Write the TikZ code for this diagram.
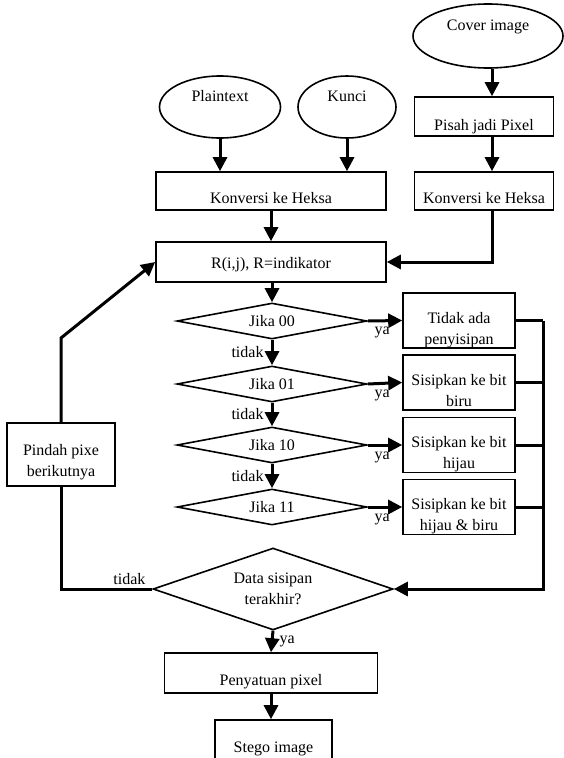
\documentclass[tikz,border=0pt]{standalone}
\usepackage{fontspec}
\setmainfont{Liberation Serif}
\usetikzlibrary{shapes.geometric,arrows.meta}
\begin{document}
\begin{tikzpicture}[x=1pt,y=-1pt,font=\fontsize{16}{21}\selectfont,
  box/.style={draw,line width=1.6pt,rectangle,inner sep=0pt,align=center},
  ell/.style={draw,line width=1.6pt,ellipse,inner sep=0pt,text height=12pt,text depth=23pt},
  dia/.style={draw,line width=1.6pt,diamond,inner sep=0pt,align=center},
  arr/.style={line width=3pt,-{Triangle[length=14pt,width=14pt]}},
  ln/.style={line width=3pt},
  lbl/.style={inner sep=1pt}]
\useasboundingbox (0,0) rectangle (563,758);
% inputs
\node[ell,minimum width=150pt,minimum height=64pt] (cov) at (488,36) {Cover image};
\node[ell,minimum width=121pt,minimum height=62pt] (pt) at (220,107) {Plaintext};
\node[ell,minimum width=98pt,minimum height=62pt] (kc) at (347,107) {Kunci};
% boxes
\node[box,minimum width=139pt,text height=33.5pt,text depth=5.5pt] (pis) at (484,116.5) {Pisah jadi Pixel};
\node[box,minimum width=139pt,text height=31.5pt,text depth=6.5pt] (k2) at (484,191) {Konversi ke Heksa};
\node[box,minimum width=230pt,text height=31.5pt,text depth=6.5pt] (k1) at (271,191) {Konversi ke Heksa};
\node[box,minimum width=230pt,text height=26.5pt,text depth=13.5pt] (R) at (271,262) {R(i,j), R=indikator};
% decisions
\node[dia,minimum width=190pt,minimum height=36pt,shape aspect=5.3] (d1) at (272,321) {Jika 00};
\node[dia,minimum width=190pt,minimum height=36pt,shape aspect=5.3] (d2) at (272,384) {Jika 01};
\node[dia,minimum width=190pt,minimum height=36pt,shape aspect=5.3] (d3) at (272,445) {Jika 10};
\node[dia,minimum width=190pt,minimum height=36pt,shape aspect=5.3] (d4) at (272,507) {Jika 11};
% side boxes
\node[box,minimum width=112pt,text height=51pt,text depth=4pt] (s1) at (459,320.5) {Tidak ada\\penyisipan};
\node[box,minimum width=112pt,text height=51pt,text depth=4pt] (s2) at (459,382.5) {Sisipkan ke bit\\biru};
\node[box,minimum width=112pt,text height=51pt,text depth=4pt] (s3) at (459,445) {Sisipkan ke bit\\hijau};
\node[box,minimum width=112pt,text height=51pt,text depth=4pt] (s4) at (459,507) {Sisipkan ke bit\\hijau \& biru};
% loop
\node[box,minimum width=108pt,text height=53.5pt,text depth=9.5pt] (pin) at (61,454.5) {Pindah pixe\\berikutnya};
\node[dia,minimum width=240pt,minimum height=82pt,shape aspect=2.9] (data) at (273,589) {Data sisipan\\terakhir?};
\node[box,minimum width=213pt,text height=32.5pt,text depth=7.5pt] (pen) at (271,673) {Penyatuan pixel};
\node[box,minimum width=117pt,text height=32.5pt,text depth=9.5pt] (st) at (273.5,741) {Stego image};
% helper coordinates
\coordinate (colx) at (492,0);
\coordinate (rc) at (543,0);
\coordinate (lb) at (61,338);
% connectors
\draw[arr] (pt.south) -- (pt.south |- k1.north);
\draw[arr] (kc.south) -- (kc.south |- k1.north);
\draw[arr] (cov.south -| colx) -- (pis.north -| colx);
\draw[arr] (pis.south -| colx) -- (k2.north -| colx);
\draw[arr] (k2.south -| colx) |- (R.east);
\draw[arr] (k1.south) -- (R.north);
\draw[arr] (R.south -| d1.north) -- (d1.north);
\draw[arr] (d1.south) -- node[lbl,left=6pt]{tidak} (d2.north);
\draw[arr] (d2.south) -- node[lbl,left=6pt]{tidak} (d3.north);
\draw[arr] (d3.south) -- node[lbl,left=6pt]{tidak} (d4.north);
\draw[arr] (d1.east) -- node[lbl,pos=0.42,below=4pt]{ya} (s1.west);
\draw[arr] (d2.east) -- node[lbl,pos=0.42,below=4pt]{ya} (s2.west);
\draw[arr] (d3.east) -- node[lbl,pos=0.42,below=4pt]{ya} (s3.west);
\draw[arr] (d4.east) -- node[lbl,pos=0.42,below=4pt]{ya} (s4.west);
\draw[ln] (s1.east) -- (s1.east -| rc);
\draw[ln] (s2.east) -- (s2.east -| rc);
\draw[ln] (s3.east) -- (s3.east -| rc);
\draw[ln] (s4.east) -- (s4.east -| rc);
\draw[arr] (s1.east -| rc) |- (data.east);
\draw[ln] (data.west) -- node[lbl,pos=0.25,above=2pt]{tidak} (data.west -| pin.south) -- (pin.south);
\draw[arr] (pin.north) -- (lb) -- (R.west);
\draw[arr] (data.south) -- node[lbl,right=5pt]{ya} (pen.north);
\draw[arr] (pen.south) -- (pen.south |- st.north);
\end{tikzpicture}
\end{document}
